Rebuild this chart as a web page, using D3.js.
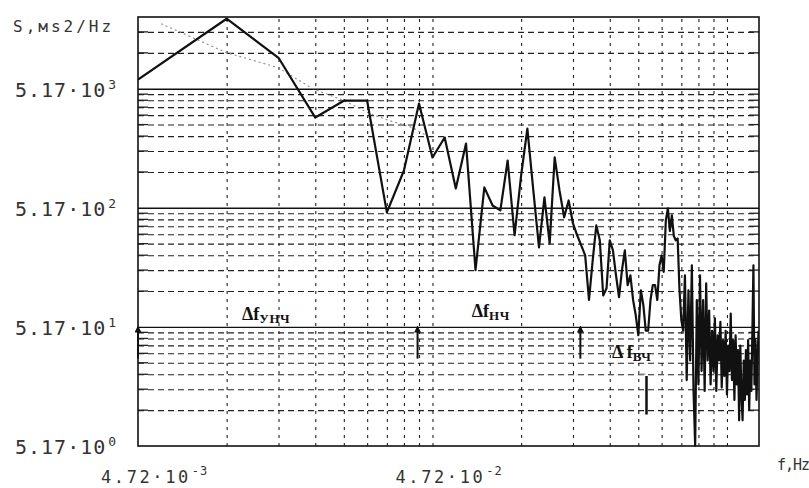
<!DOCTYPE html>
<html>
<head>
<meta charset="utf-8">
<script src="https://cdn.jsdelivr.net/npm/d3@7"></script>
<style>
  body { margin: 0; background: #fff; }
  svg { display: block; }
</style>
</head>
<body>
<div id="chart"></div>
<script>
// spectrum bins, Hz
let freq = [
  0.00472, 0.00944, 0.01416, 0.01888, 0.0236, 0.02832, 0.03304, 0.03776, 0.04248, 0.0472,
  0.05192, 0.05664, 0.06136, 0.06608, 0.0708, 0.07552, 0.08024, 0.08496, 0.08968, 0.0944,
  0.09912, 0.10384, 0.10856, 0.11328, 0.118, 0.12272, 0.12744, 0.13216, 0.13688, 0.1416,
  0.14632, 0.15104, 0.15576, 0.16048, 0.1652, 0.16992, 0.17464, 0.17936, 0.18408, 0.1888,
  0.19352, 0.19824, 0.20296, 0.20768, 0.2124, 0.21712, 0.22184, 0.22656, 0.23128, 0.236,
  0.24072, 0.24544, 0.25016, 0.25488, 0.2596, 0.26432, 0.26904, 0.27376, 0.27848, 0.2832,
  0.28792, 0.29264, 0.29736, 0.30208, 0.3068, 0.31152, 0.31624, 0.32096, 0.32568, 0.3304,
  0.33512, 0.33984, 0.34456, 0.34928, 0.354, 0.35872, 0.36344, 0.36816, 0.37288, 0.3776,
  0.38232, 0.38704, 0.39176, 0.39648, 0.4012, 0.40592, 0.41064, 0.41536, 0.42008, 0.4248,
  0.42952, 0.43424, 0.43896, 0.44368, 0.4484, 0.45312, 0.45784, 0.46256, 0.46728, 0.472,
  0.47672, 0.48144, 0.48616, 0.49088, 0.4956, 0.50032, 0.50504, 0.50976, 0.51448, 0.5192,
  0.52392, 0.52864, 0.53336, 0.53808, 0.5428, 0.54752, 0.55224, 0.55696, 0.56168, 0.5664,
  0.57112, 0.57584, 0.58056, 0.58528, 0.59, 0.59472, 0.59944, 0.60416
];
// spectral density, ms2/Hz
let power = [
  6160, 20000, 9400, 2960, 4100, 4100, 473, 1064, 3880, 1368,
  2011, 752, 1792, 155, 767, 541, 492, 1290, 304, 966,
  2394, 723, 241, 632, 260, 1368, 723, 430, 596, 382,
  304, 250, 206, 87, 187, 368, 276, 95, 109, 276,
  227, 140, 92, 155, 227, 116, 140, 87, 65, 44,
  105, 79, 48, 48, 87, 116, 116, 87, 170, 206,
  150, 405, 511, 330, 447, 300, 276, 286, 105, 59,
  48, 140, 18.5, 105, 27, 170, 15, 5.2, 87, 17,
  140, 22, 87, 15, 120, 27, 71, 17, 48, 22,
  61, 15, 44, 27, 57, 16, 40, 20, 48, 14,
  36, 22, 67, 18.5, 40, 12.6, 44, 17, 33, 8.5,
  36, 14, 8.5, 27, 12.6, 33, 14, 40, 10.4, 27,
  15, 48, 170, 17, 40, 12.6, 27, 48
];
// faint dotted trend in the low band
let trendFreq = [0.00565, 0.00944, 0.0141, 0.0185, 0.0236, 0.0289, 0.0337, 0.0404, 0.0463];
let trendPower = [18160, 10380, 7770, 5180, 4107, 3197, 2792, 2440, 2011];

let yExp = [0, 1, 2, 3];
let yMant = "5.17·10";
let xExp = ["-3", "-2"];
let xMant = "4.72·10";
let bandEdges = [0.00472, 0.042, 0.15];
let bandNames = ["УНЧ", "НЧ", "ВЧ"];

let width = 809, height = 488;
let margin = {top: 17, right: 50, bottom: 42, left: 138};
let f0 = 0.00472, fMax = 0.6064;
let s0 = 5.17, sMax = 20680;

let x = d3.scaleLog().domain([f0, fMax]).range([margin.left, width - margin.right]);
let y = d3.scaleLog().domain([s0, sMax]).range([height - margin.bottom, margin.top]);
let plotW = width - margin.left - margin.right;
let plotH = height - margin.top - margin.bottom;

let svg = d3.select("#chart").append("svg")
  .attr("width", width).attr("height", height);

// grid values
let majorY = yExp.map(e => s0 * Math.pow(10, e)).filter(v => v > s0);
let minorY = [];
yExp.forEach(e => {
  for (let m = 2; m <= 9; m++) {
    let v = s0 * Math.pow(10, e) * m;
    if (v < sMax * 0.999) minorY.push(v);
  }
});
let minorX = [];
[0, 1, 2].forEach(e => {
  for (let m = 1; m <= 9; m++) {
    let v = f0 * Math.pow(10, e) * m;
    if (v > f0 * 1.001 && v < fMax) minorX.push(v);
  }
});

// vertical dotted grid
svg.append("g")
  .attr("transform", `translate(0,${height - margin.bottom})`)
  .call(d3.axisBottom(x).tickValues(minorX).tickSize(-plotH).tickFormat(""))
  .call(g => g.select(".domain").remove())
  .call(g => g.selectAll("line")
    .attr("stroke", "#222").attr("stroke-width", 1.1)
    .attr("stroke-dasharray", "3,5"));

// horizontal dashed minor grid
svg.append("g")
  .attr("transform", `translate(${margin.left},0)`)
  .call(d3.axisLeft(y).tickValues(minorY).tickSize(-plotW).tickFormat(""))
  .call(g => g.select(".domain").remove())
  .call(g => g.selectAll("line")
    .attr("stroke", "#222").attr("stroke-width", 1.1)
    .attr("stroke-dasharray", "6,4"));

// short solid ticks at both borders
[margin.left, width - margin.right].forEach((px, i) => {
  svg.append("g").selectAll("line")
    .data(minorY).join("line")
    .attr("x1", px).attr("x2", px + (i ? -10 : 10))
    .attr("y1", d => y(d)).attr("y2", d => y(d))
    .attr("stroke", "#222").attr("stroke-width", 1.3);
});

// decade lines
svg.append("g")
  .attr("transform", `translate(${margin.left},0)`)
  .call(d3.axisLeft(y).tickValues(majorY).tickSize(-plotW).tickFormat(""))
  .call(g => g.select(".domain").remove())
  .call(g => g.selectAll("line").attr("stroke", "#111").attr("stroke-width", 1.4));

svg.append("rect")
  .attr("x", margin.left).attr("y", margin.top)
  .attr("width", plotW).attr("height", plotH)
  .attr("fill", "none").attr("stroke", "#111").attr("stroke-width", 1.6);

// trend
let trendLine = d3.line().x(d => x(d[0])).y(d => y(d[1]));
svg.append("path")
  .attr("d", trendLine(d3.zip(trendFreq, trendPower)))
  .attr("fill", "none").attr("stroke", "#8a8a8a")
  .attr("stroke-width", 1.1).attr("stroke-dasharray", "2,3");

// spectrum
svg.append("clipPath").attr("id", "clip")
  .append("rect").attr("x", margin.left).attr("y", margin.top - 1)
  .attr("width", plotW).attr("height", plotH + 2);
let line = d3.line().x(d => x(d[0])).y(d => y(d[1])).curve(d3.curveLinear);
svg.append("path")
  .attr("clip-path", "url(#clip)")
  .attr("d", line(d3.zip(freq, power)))
  .attr("fill", "none").attr("stroke", "#111")
  .attr("stroke-width", 2.2).attr("stroke-linejoin", "round");

// y tick labels
let mono = "'DejaVu Sans Mono', 'Liberation Mono', monospace";
let yl = svg.append("g").selectAll("text")
  .data(yExp).join("text")
  .attr("x", 15).attr("y", d => y(s0 * Math.pow(10, d)) + 8)
  .attr("font-family", mono).attr("font-size", 20)
  .attr("letter-spacing", 1).attr("fill", "#333");
yl.append("tspan").text(yMant);
yl.append("tspan").attr("dx", 2).attr("dy", -8)
  .attr("font-size", 13).text(d => d);

// x tick labels
let xl = svg.append("g").selectAll("text")
  .data(xExp).join("text")
  .attr("x", d => x(f0 * Math.pow(10, +d + 3)) - 37)
  .attr("y", 483)
  .attr("font-family", mono).attr("font-size", 17)
  .attr("letter-spacing", 2.6).attr("fill", "#333");
xl.append("tspan").text(xMant);
xl.append("tspan").attr("dx", 1).attr("dy", -8)
  .attr("font-size", 12).attr("letter-spacing", 1).text(d => d);

svg.append("text")
  .attr("x", 13).attr("y", 32)
  .attr("font-family", mono).attr("font-size", 16)
  .attr("letter-spacing", 3).attr("fill", "#333")
  .text("S,мs2/Hz");

svg.append("text")
  .attr("x", 777).attr("y", 470)
  .attr("font-family", mono).attr("font-size", 15)
  .attr("letter-spacing", -1).attr("fill", "#333")
  .text("f,Hz");

// band arrows
svg.append("defs").append("marker")
  .attr("id", "arr").attr("viewBox", "0 -5 10 10")
  .attr("refX", 8).attr("refY", 0)
  .attr("markerWidth", 7).attr("markerHeight", 7)
  .attr("markerUnits", "userSpaceOnUse")
  .attr("orient", "auto")
  .append("path").attr("d", "M0,-5L10,0L0,5Z").attr("fill", "#111");
svg.append("g").selectAll("line")
  .data(bandEdges).join("line")
  .attr("x1", d => x(d)).attr("x2", d => x(d))
  .attr("y1", y(28)).attr("y2", y(51.7))
  .attr("stroke", "#111").attr("stroke-width", 2)
  .attr("marker-end", "url(#arr)");

// band labels
let serif = "'Liberation Serif', 'DejaVu Serif', serif";
let labelPos = [[0.01065, 66, ""], [0.0642, 69.8, ""], [0.192, 31.7, " "]];
labelPos.forEach((p, i) => {
  let t = svg.append("text")
    .attr("x", x(p[0])).attr("y", y(p[1]) + 6)
    .attr("font-family", serif).attr("font-weight", "bold")
    .attr("font-size", 18).attr("fill", "#111");
  t.append("tspan").text("Δ" + p[2] + "f");
  t.append("tspan").attr("dy", 3).attr("font-size", 13)
    .attr("letter-spacing", 0.5).text(bandNames[i]);
});

// small mark under the HF label
svg.append("line")
  .attr("x1", x(0.2516)).attr("x2", x(0.2516))
  .attr("y1", y(20)).attr("y2", y(9.5))
  .attr("stroke", "#111").attr("stroke-width", 2.5);
svg.append("line")
  .attr("x1", x(0.2516) - 7).attr("x2", x(0.2516) - 1)
  .attr("y1", y(20) - 2).attr("y2", y(20) - 2)
  .attr("stroke", "#999").attr("stroke-width", 1.2);
</script>
</body>
</html>
